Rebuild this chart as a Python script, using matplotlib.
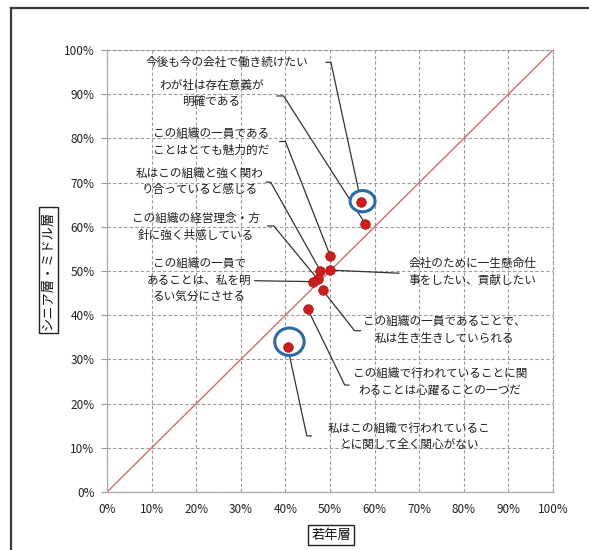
import matplotlib
matplotlib.use("Agg")
import matplotlib.pyplot as plt
from matplotlib.patches import Ellipse
from matplotlib.lines import Line2D

plt.rcParams['font.family'] = ['Noto Sans CJK JP', 'DejaVu Sans']

# 若年層 / シニア層・ミドル層 の肯定回答率 (%)
items = [
    "今後も今の会社で働き続けたい",
    "わが社は存在意義が\n明確である",
    "この組織の一員である\nことはとても魅力的だ",
    "私はこの組織と強く関わ\nり合っていると感じる",
    "この組織の経営理念・方\n針に強く共感している",
    "この組織の一員で\nあることは、私を明\nるい気分にさせる",
    "会社のために一生懸命仕\n事をしたい、貢献したい",
    "この組織の一員であることで、\n私は生き生きしていられる",
    "この組織で行われていることに関\nわることは心躍ることの一つだ",
    "私はこの組織で行われているこ\nとに関して全く関心がない",
]
young = [57.0, 57.9, 50.1, 47.8, 47.2, 46.1, 50.1, 48.4, 45.0, 40.5]
senior_middle = [65.5, 60.7, 53.3, 50.1, 48.2, 47.6, 50.2, 45.6, 41.4, 32.8]
highlighted = [0, 9]

tick_values = list(range(0, 101, 10))
tick_labels = [f"{v}%" for v in tick_values]

# label placement (text centre) and leader-line waypoints, in axis percent
label_pos = [(27.0, 97.2), (23.4, 90.0), (23.4, 79.2), (20.7, 70.3), (20.0, 60.0),
             (20.7, 47.9), (82.0, 49.8), (75.7, 36.6), (74.7, 24.9), (67.7, 12.6)]
leader_way = [
    [(49.0, 97.2), (50.2, 97.2)],
    [(38.0, 89.6), (39.6, 89.6)],
    [(38.6, 79.3), (40.0, 79.3)],
    [(35.6, 70.1), (36.7, 70.1)],
    [(35.9, 60.2), (37.4, 60.2)],
    [(33.0, 47.8)],
    [(65.6, 49.5)],
    [(57.0, 36.5), (55.5, 36.5)],
    [(54.4, 24.2), (53.3, 24.2)],
    [(45.9, 12.7), (44.8, 12.7)],
]
# highlight ellipses: offset from point, width, height (percent)
ring_geom = {0: (0.3, 0.3, 5.6, 4.8), 9: (0.4, 1.2, 6.6, 6.2)}

W, H = 589, 550
fig = plt.figure(figsize=(W / 100, H / 100), dpi=100)
fig.patch.set_facecolor("white")
x0, x1, y0, y1 = 107, 553, 492, 50
ax = fig.add_axes([x0 / W, 1 - y0 / H, (x1 - x0) / W, (y0 - y1) / H])

# outer frame
fig.add_artist(Line2D([11 / W, 11 / W], [0, 1 - 8 / H], transform=fig.transFigure,
                      color="#3a3a3a", lw=1.6))
fig.add_artist(Line2D([11 / W, 1], [1 - 8 / H, 1 - 8 / H], transform=fig.transFigure,
                      color="#3a3a3a", lw=1.6))

ax.set_xlim(0, 100)
ax.set_ylim(0, 100)
ax.set_xticks(tick_values)
ax.set_yticks(tick_values)
ax.set_xticklabels(tick_labels)
ax.set_yticklabels(tick_labels)
ax.tick_params(axis="x", length=0, pad=8, labelsize=8.5, labelcolor="#222222")
ax.tick_params(axis="y", length=4, width=0.8, color="#999999", pad=5,
               labelsize=8.5, labelcolor="#222222")

dash = (0, (3, 2))
ax.grid(True, color="#9a9a9a", linestyle=dash, linewidth=0.8)
ax.set_axisbelow(True)
for s in ("left", "bottom"):
    ax.spines[s].set_color("#b0b0b0")
    ax.spines[s].set_linewidth(1.0)
for s in ("top", "right"):
    ax.spines[s].set_color("#9a9a9a")
    ax.spines[s].set_linestyle(dash)
    ax.spines[s].set_linewidth(0.8)

# equality line
ax.plot([0, 100], [0, 100], color="#d46a6a", lw=1.0, zorder=2)

# leader lines
for i, (px, py) in enumerate(zip(young, senior_middle)):
    pts = leader_way[i] + [(px, py)]
    ax.plot([p[0] for p in pts], [p[1] for p in pts], color="#333333", lw=0.9,
            zorder=3, solid_capstyle="butt")

# highlight rings
for i in highlighted:
    dx, dy, w, h = ring_geom[i]
    ax.add_patch(Ellipse((young[i] + dx, senior_middle[i] + dy), w, h,
                         facecolor="white", edgecolor="#2c6aa8", lw=2.2, zorder=4))

ax.scatter(young, senior_middle, s=48, color="#cc1c1c", edgecolors="#b01010",
           linewidths=0.5, zorder=5)

for text, (tx, ty) in zip(items, label_pos):
    ax.text(tx, ty, text, ha="center", va="center", fontsize=8.4, color="#1e1e1e",
            linespacing=1.35, zorder=6)

box = dict(boxstyle="square,pad=0.25", facecolor="white", edgecolor="#222222", lw=1.0)
fig.text(331 / W, 1 - 535 / H, "若年層", ha="center", va="center", fontsize=9.5,
         color="#111111", bbox=box)
fig.text(48.5 / W, 1 - 270 / H, "シニア層・ミドル層", ha="center", va="center",
         rotation=90, fontsize=9.5, color="#111111", bbox=box)

fig.savefig("out.png", dpi=100, facecolor="white")
